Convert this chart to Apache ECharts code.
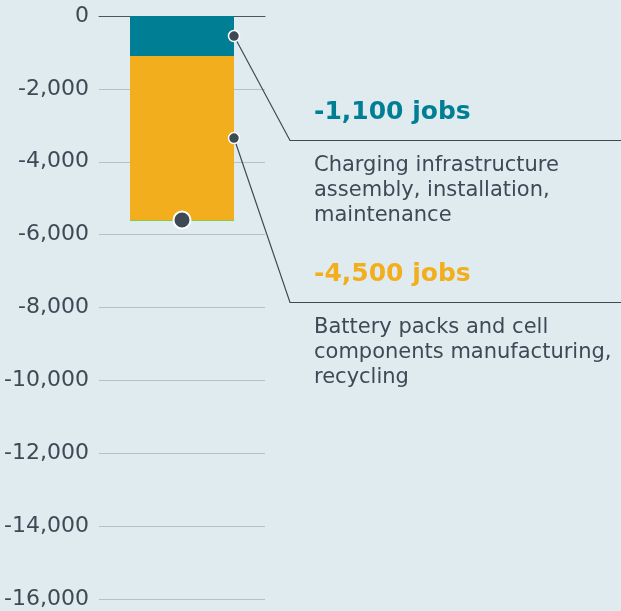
<!DOCTYPE html>
<html><head><meta charset="utf-8">
<script src="https://cdn.jsdelivr.net/npm/echarts@6/dist/echarts.min.js"></script>
<style>html,body{margin:0;padding:0;background:#e0ebf0}#c{width:621px;height:611px}</style>
</head><body><div id="c"></div>
<script>
var categories = ['Total'];
var chargingValues = [-1100];
var batteryValues = [-4500];
var otherValues = [-25];
var totalValues = [-5600];
var yTicks = [0, -2000, -4000, -6000, -8000, -10000, -12000, -14000, -16000];
var annTitles = ['-1,100 jobs', '-4,500 jobs'];
var annBodies = [['Charging infrastructure', 'assembly, installation,', 'maintenance'],
                 ['Battery packs and cell', 'components manufacturing,', 'recycling']];
var annColors = ['#007f94', '#f2ae1c'];

var FONT = 'DejaVu Sans';
var TXT = '#3d4a55';
var chart = echarts.init(document.getElementById('c'), null, {renderer: 'canvas'});
var mids = [chargingValues[0] / 2, chargingValues[0] + batteryValues[0] / 2];

chart.setOption({
  backgroundColor: '#e0ebf0',
  animation: false,
  grid: {left: 99, right: 356, top: 16, bottom: 12, containLabel: false},
  xAxis: {type: 'category', data: categories, position: 'top',
    axisLine: {show: true, lineStyle: {color: '#4a5560', width: 1}},
    axisTick: {show: false}, axisLabel: {show: false}, splitLine: {show: false}},
  yAxis: {type: 'value', min: -16000, max: 0, interval: 2000,
    axisLine: {show: false}, axisTick: {show: false},
    splitLine: {lineStyle: {color: '#b9c0c3', width: 1}},
    axisLabel: {margin: 10, color: TXT, fontFamily: FONT, fontSize: 22,
      formatter: function (v) { return v === 0 ? '0' : v.toLocaleString('en-US'); }}},
  series: [
    {type: 'bar', stack: 's', data: chargingValues, barWidth: 104, itemStyle: {color: '#007f94'}},
    {type: 'bar', stack: 's', data: batteryValues, barWidth: 104, itemStyle: {color: '#f2ae1c'}},
    {type: 'bar', stack: 's', data: otherValues, barWidth: 104, itemStyle: {color: '#8dc63f'}},
    {type: 'scatter', data: [[0, totalValues[0]]], symbolSize: 17, z: 5,
      itemStyle: {color: '#3d4a55', borderColor: '#ffffff', borderWidth: 2, opacity: 1}},
    {type: 'scatter', data: [[0, mids[0]], [0, mids[1]]], symbolSize: 11, symbolOffset: [52, 0], z: 6,
      itemStyle: {color: '#3d4a55', borderColor: '#ffffff', borderWidth: 1.5, opacity: 1}}
  ]
});

var graphics = [];
var elbowDY = [104, 164];
for (var i = 0; i < 2; i++) {
  var p = chart.convertToPixel({seriesIndex: 4}, [0, mids[i]]);
  var sx = p[0] + 52, sy = p[1];
  var ex = sx + 56, ey = Math.round(sy + elbowDY[i]) + 0.5;
  graphics.push({type: 'polyline', z: 4, shape: {points: [[sx, sy], [ex, ey], [621, ey]]},
    style: {stroke: '#3d4a55', lineWidth: 1.2, fill: null}});
  graphics.push({type: 'text', x: ex + 24, y: ey - 28, style: {text: annTitles[i], fill: annColors[i],
    font: 'bold 25px "' + FONT + '"', verticalAlign: 'middle', textAlign: 'left'}});
  for (var j = 0; j < annBodies[i].length; j++) {
    graphics.push({type: 'text', x: ex + 24, y: ey + 25.5 + j * 25, style: {text: annBodies[i][j], fill: TXT,
      font: '21px "' + FONT + '"', verticalAlign: 'middle', textAlign: 'left'}});
  }
}
chart.setOption({graphic: graphics});
</script></body></html>
